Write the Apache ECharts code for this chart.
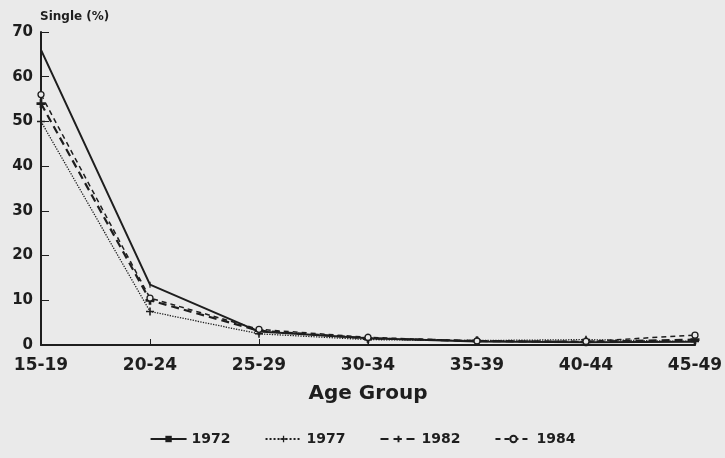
<!DOCTYPE html>
<html>
<head>
<meta charset="utf-8">
<script src="https://cdn.jsdelivr.net/npm/echarts@6/dist/echarts.min.js"></script>
<style>
  html, body { margin: 0; padding: 0; background: #eaeaea; }
  #chart { width: 725px; height: 458px; }
</style>
</head>
<body>
<div id="chart"></div>
<script>
// Share of women who are single, by age group and survey year
const ageGroups = ['15-19', '20-24', '25-29', '30-34', '35-39', '40-44', '45-49'];
const yTicks = [0, 10, 20, 30, 40, 50, 60, 70];
const single1972 = [66, 13.5, 3, 1.5, 0.8, 0.6, 0.7];
const single1977 = [50, 7.5, 2.5, 1.2, 1.0, 1.2, 0.8];
const single1982 = [54, 10, 3.2, 1.5, 0.9, 0.7, 1.2];
const single1984 = [56, 10.5, 3.5, 1.7, 0.9, 0.8, 2.2];

const bg = '#eaeaea';
const ink = '#1e1e1e';
const font = '"DejaVu Sans", Verdana, sans-serif';
const plus = 'path://M4,0 L6,0 L6,4 L10,4 L10,6 L6,6 L6,10 L4,10 L4,6 L0,6 L0,4 L4,4 Z';
const heavyPlus = 'path://M3.5,0 L6.5,0 L6.5,3.5 L10,3.5 L10,6.5 L6.5,6.5 L6.5,10 L3.5,10 L3.5,6.5 L0,6.5 L0,3.5 L3.5,3.5 Z';
const tick = 'path://M0,0 L2,0 L2,10 L0,10 Z';

function line(name, data, lineStyle, symbol, size, fill, border) {
  return {
    name, type: 'line', data,
    symbol, symbolSize: size, symbolKeepAspect: true, showSymbol: true,
    lineStyle: Object.assign({ color: ink }, lineStyle),
    itemStyle: { color: fill || ink, borderColor: ink, borderWidth: border || 0 },
    emphasis: { disabled: true },
    animation: false
  };
}

const chart = echarts.init(document.getElementById('chart'));
chart.setOption({
  backgroundColor: bg,
  textStyle: { fontFamily: font },
  title: {
    text: 'Single (%)', left: 35, top: 6,
    textStyle: { fontSize: 12, fontWeight: 'bold', color: ink, fontFamily: font }
  },
  grid: { left: 41, right: 30, top: 32, bottom: 113, containLabel: false, outerBoundsMode: 'none' },
  xAxis: {
    type: 'category', data: ageGroups, boundaryGap: false,
    name: 'Age Group', nameLocation: 'middle', nameGap: 39,
    nameTextStyle: { fontSize: 20, fontWeight: 'bold', color: ink, fontFamily: font },
    axisLine: { lineStyle: { color: ink, width: 2 } },
    axisTick: { inside: true, length: 6, lineStyle: { color: ink } },
    axisLabel: { color: ink, fontSize: 17, fontWeight: 'bold', margin: 12 }
  },
  yAxis: {
    type: 'value', min: yTicks[0], max: yTicks[yTicks.length - 1], interval: 10,
    axisLine: { show: true, lineStyle: { color: ink, width: 2 } },
    axisTick: { show: true, inside: true, length: 8, lineStyle: { color: ink } },
    splitLine: { show: false },
    axisLabel: { color: ink, fontSize: 15, fontWeight: 'bold', margin: 8 }
  },
  legend: {
    bottom: 7, left: 'center', itemWidth: 36, itemHeight: 8, itemGap: 34,
    textStyle: { fontSize: 14, fontWeight: 'bold', color: ink, fontFamily: font },
    data: ['1972', '1977', '1982', '1984']
  },
  series: [
    line('1972', single1972, { width: 2, type: 'solid' }, tick, 6),
    line('1977', single1977, { width: 1.3, type: 'dotted' }, plus, 8),
    line('1982', single1982, { width: 2.2, type: [8, 5] }, heavyPlus, 9),
    line('1984', single1984, { width: 1.5, type: [5, 4] }, 'circle', 6, bg, 1.3)
  ]
});
</script>
</body>
</html>
